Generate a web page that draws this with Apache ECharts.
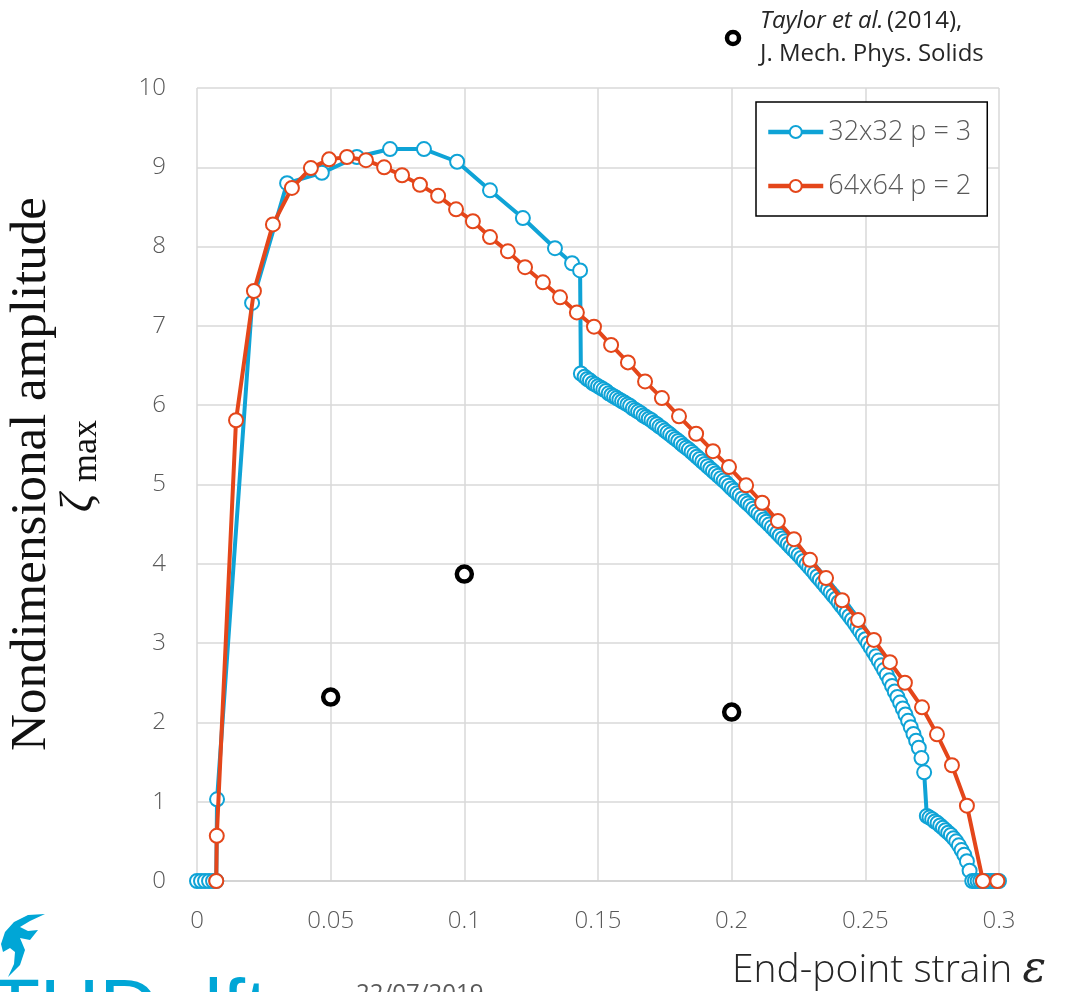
<!DOCTYPE html>
<html>
<head>
<meta charset="utf-8">
<script src="https://cdn.jsdelivr.net/npm/echarts@6/dist/echarts.min.js"></script>
<style>
html,body{margin:0;padding:0;background:#fff;}
#chart{width:1079px;height:992px;}
</style>
</head>
<body>
<div id="chart"></div>
<script>
// ---- data ----
var blueName = '32x32 p = 3';
var redName = '64x64 p = 2';
var taylorName = 'Taylor et al. (2014)';

var blueX = [0, 0.0015, 0.003, 0.0045, 0.006, 0.0072, 0.0075, 0.0206, 0.0337, 0.0467, 0.0598, 0.0722, 0.0849, 0.0973, 0.1096, 0.1219, 0.1339, 0.1403, 0.1433, 0.1436,
  0.145, 0.146, 0.147, 0.148, 0.149, 0.150, 0.151, 0.152, 0.153, 0.154, 0.155, 0.156, 0.157, 0.158, 0.159, 0.160,
  0.161, 0.162, 0.163, 0.164, 0.165, 0.166, 0.167, 0.168, 0.169, 0.170, 0.171, 0.172, 0.173, 0.174, 0.175,
  0.176, 0.177, 0.178, 0.179, 0.180, 0.181, 0.182, 0.183, 0.184, 0.185, 0.186, 0.187, 0.188, 0.189, 0.190,
  0.191, 0.192, 0.193, 0.194, 0.195, 0.196, 0.197, 0.198, 0.199, 0.200, 0.201, 0.202, 0.203, 0.204, 0.205,
  0.206, 0.207, 0.208, 0.209, 0.210, 0.211, 0.212, 0.213, 0.214, 0.215, 0.216, 0.217, 0.218, 0.219, 0.220,
  0.221, 0.222, 0.223, 0.224, 0.225, 0.226, 0.227, 0.228, 0.229, 0.230, 0.231, 0.232, 0.233, 0.234, 0.235,
  0.236, 0.237, 0.238, 0.239, 0.240, 0.241, 0.242, 0.243, 0.244, 0.245, 0.246, 0.247, 0.248, 0.249, 0.250,
  0.251, 0.252, 0.253, 0.254, 0.255, 0.256, 0.257, 0.258, 0.259, 0.260, 0.261, 0.262, 0.263, 0.264, 0.265,
  0.266, 0.267, 0.268, 0.269, 0.270, 0.271, 0.272,
  0.273, 0.274, 0.275, 0.276, 0.277, 0.278, 0.279, 0.280, 0.281, 0.282, 0.283, 0.284, 0.285, 0.286, 0.287, 0.288, 0.289,
  0.290, 0.291, 0.292, 0.293, 0.294, 0.295, 0.296, 0.297, 0.298, 0.299, 0.300];
var blueY = [0, 0, 0, 0, 0, 0, 1.03, 7.29, 8.80, 8.93, 9.13, 9.23, 9.23, 9.07, 8.71, 8.36, 7.98, 7.79, 7.70, 6.40,
  6.36, 6.33, 6.31, 6.28, 6.26, 6.24, 6.22, 6.20, 6.18, 6.15, 6.13, 6.11, 6.09, 6.07, 6.05, 6.03,
  6.01, 5.99, 5.96, 5.94, 5.92, 5.90, 5.87, 5.85, 5.83, 5.81, 5.78, 5.76, 5.73, 5.71, 5.68,
  5.655, 5.63, 5.60, 5.575, 5.55, 5.52, 5.49, 5.465, 5.44, 5.41, 5.38, 5.35, 5.32, 5.29, 5.26,
  5.23, 5.20, 5.17, 5.14, 5.11, 5.08, 5.05, 5.02, 4.985, 4.95, 4.92, 4.89, 4.86, 4.825, 4.79,
  4.76, 4.73, 4.695, 4.66, 4.63, 4.595, 4.56, 4.53, 4.495, 4.46, 4.425, 4.39, 4.355, 4.32, 4.285,
  4.25, 4.215, 4.18, 4.145, 4.11, 4.073, 4.035, 3.997, 3.958, 3.92, 3.88, 3.84, 3.80, 3.76, 3.72,
  3.68, 3.64, 3.60, 3.56, 3.515, 3.47, 3.43, 3.385, 3.34, 3.295, 3.25, 3.20, 3.15, 3.10, 3.05,
  2.998, 2.945, 2.89, 2.835, 2.78, 2.72, 2.66, 2.60, 2.53, 2.46, 2.39, 2.32, 2.25, 2.175, 2.10,
  2.02, 1.94, 1.855, 1.77, 1.68, 1.55, 1.37,
  0.82, 0.80, 0.78, 0.75, 0.73, 0.70, 0.67, 0.64, 0.61, 0.58, 0.54, 0.50, 0.45, 0.39, 0.33, 0.25, 0.13,
  0, 0, 0, 0, 0, 0, 0, 0, 0, 0, 0];

var redX = [0.0072, 0.0074, 0.0146, 0.0213, 0.0284, 0.0355, 0.0426, 0.0494, 0.0561, 0.0632, 0.0700, 0.0767, 0.0834, 0.0902, 0.0969,
  0.1032, 0.1096, 0.1163, 0.1227, 0.1294, 0.1358, 0.1421, 0.1485, 0.1549, 0.1612, 0.1676, 0.1739, 0.1803, 0.1867, 0.1930,
  0.1990, 0.2054, 0.2114, 0.2173, 0.2233, 0.2293, 0.2353, 0.2413, 0.2473, 0.2532, 0.2592, 0.2648, 0.2712, 0.2768, 0.2824,
  0.2880, 0.2940, 0.2994];
var redY = [0, 0.57, 5.81, 7.44, 8.28, 8.74, 8.99, 9.10, 9.13, 9.09, 9.00, 8.90, 8.78, 8.64, 8.47,
  8.32, 8.12, 7.94, 7.74, 7.55, 7.36, 7.17, 6.99, 6.76, 6.54, 6.30, 6.09, 5.86, 5.64, 5.42,
  5.22, 4.99, 4.77, 4.54, 4.31, 4.05, 3.82, 3.54, 3.29, 3.04, 2.76, 2.50, 2.19, 1.85, 1.46,
  0.95, 0, 0];

var taylorX = [0.05, 0.1, 0.2];
var taylorY = [2.32, 3.87, 2.13];

var xTicks = {min: 0, max: 0.3, step: 0.05};
var yTicks = {min: 0, max: 10, step: 1};

// ---- chart ----
var BLUE = '#0FA3D6';
var RED = '#E4461A';
var LABEL = '#595959';
var SANS = '"Open Sans", "Noto Sans", sans-serif';
var SERIF = '"Liberation Serif", "DejaVu Serif", serif';

function pairs(xs, ys) { return xs.map(function (x, i) { return [x, ys[i]]; }); }

var chart = echarts.init(document.getElementById('chart'), null, {renderer: 'canvas'});

var option = {
  animation: false,
  backgroundColor: '#fff',
  grid: {left: 197, right: 80, top: 88, bottom: 111, containLabel: false},
  legend: {
    data: [blueName, redName],
    orient: 'vertical',
    left: 756, top: 102,
    borderColor: '#000', borderWidth: 1.5,
    backgroundColor: '#fff',
    padding: [16, 16, 16, 10],
    itemGap: 26,
    itemWidth: 55, itemHeight: 15,
    lineStyle: {width: 4.5, type: 'solid'},
    textStyle: {fontSize: 27, color: LABEL, fontFamily: SANS, fontWeight: 300, lineHeight: 28},
    selectedMode: false
  },
  xAxis: {
    type: 'value', min: xTicks.min, max: xTicks.max, interval: xTicks.step,
    axisLine: {show: true, lineStyle: {color: '#cfcfcf', width: 1.5}},
    axisTick: {show: false},
    splitLine: {show: true, lineStyle: {color: '#d9d9d9', width: 1.5}},
    axisLabel: {fontSize: 24, color: LABEL, margin: 28, fontFamily: SANS, fontWeight: 300}
  },
  yAxis: {
    type: 'value', min: yTicks.min, max: yTicks.max, interval: yTicks.step,
    axisLine: {show: false},
    axisTick: {show: false},
    splitLine: {show: true, lineStyle: {color: '#d9d9d9', width: 1.5}},
    axisLabel: {fontSize: 24, color: LABEL, margin: 31, fontFamily: SANS, fontWeight: 300}
  },
  series: [
    {
      name: blueName, type: 'line', data: pairs(blueX, blueY),
      symbol: 'emptyCircle', symbolSize: 14, showAllSymbol: true,
      lineStyle: {color: BLUE, width: 4},
      itemStyle: {color: BLUE, borderColor: BLUE, borderWidth: 2.2},
      emphasis: {disabled: true}, z: 2
    },
    {
      name: redName, type: 'line', data: pairs(redX, redY),
      symbol: 'emptyCircle', symbolSize: 14, showAllSymbol: true,
      lineStyle: {color: RED, width: 4},
      itemStyle: {color: RED, borderColor: RED, borderWidth: 2.2},
      emphasis: {disabled: true}, z: 3
    },
    {
      name: taylorName, type: 'scatter', data: pairs(taylorX, taylorY),
      symbol: 'circle', symbolSize: 15,
      itemStyle: {color: '#fff', borderColor: '#000', borderWidth: 4.5, opacity: 1},
      emphasis: {disabled: true}, z: 4
    }
  ],
  graphic: [
    // Taylor legend entry
    {
      type: 'circle', shape: {cx: 733, cy: 38, r: 6},
      style: {fill: '#fff', stroke: '#000', lineWidth: 4.5}
    },
    {
      type: 'text', x: 760, y: 5,
      style: {
        text: '{i|Taylor et al.} {n|(2014),}\n{n|J. Mech. Phys. Solids}',
        align: 'left', verticalAlign: 'top',
        rich: {
          i: {fontSize: 24, fontStyle: 'italic', fontFamily: SANS, fill: '#262626', lineHeight: 33},
          n: {fontSize: 24, fontFamily: SANS, fill: '#262626', lineHeight: 33}
        }
      }
    },
    // y axis name
    {
      type: 'text', x: 32, y: 474, rotation: Math.PI / 2,
      style: {
        text: 'Nondimensional amplitude',
        align: 'center', verticalAlign: 'middle',
        fontSize: 51, fontFamily: SERIF, fill: '#111'
      }
    },
    {
      type: 'text', x: 80, y: 503, rotation: Math.PI / 2,
      style: {
        text: 'ζ', align: 'center', verticalAlign: 'middle',
        fontSize: 46, fontStyle: 'italic', fontFamily: SERIF, fill: '#111'
      }
    },
    {
      type: 'text', x: 87, y: 451, rotation: Math.PI / 2,
      style: {
        text: 'max', align: 'center', verticalAlign: 'middle',
        fontSize: 36, fontFamily: SERIF, fill: '#111'
      }
    },
    // x axis name
    {
      type: 'text', x: 732, y: 971,
      style: {
        text: '{a|End-point strain }{e|ε}',
        align: 'left', verticalAlign: 'middle',
        rich: {
          a: {fontSize: 39, fontFamily: SANS, fontWeight: 300, fill: '#262626'},
          e: {fontSize: 44, fontStyle: 'italic', fontFamily: '"DejaVu Serif", "Liberation Serif", serif', fill: '#262626'}
        }
      }
    },
    // logo (cut off at the bottom)
    {
      type: 'polygon',
      shape: {points: [[8, 977], [20, 965], [25, 950], [20, 938], [30, 940], [38, 930], [28, 931], [20, 927], [30, 921], [45, 914], [28, 915], [14, 922], [5, 932], [1, 944], [3, 952], [10, 948], [15, 952], [14, 964]]},
      style: {fill: '#00A6D6'}
    },
    {
      type: 'text', x: -10, y: 972,
      style: {text: 'TUDelft', fontSize: 82, fontFamily: '"Liberation Sans", Arial, sans-serif', fill: '#00A6D6', align: 'left', verticalAlign: 'top'}
    },
    {
      type: 'text', x: 356, y: 982,
      style: {text: '22/07/2019', fontSize: 24, fontFamily: SANS, fill: LABEL, align: 'left', verticalAlign: 'top'}
    }
  ]
};

chart.setOption(option);
</script>
</body>
</html>
